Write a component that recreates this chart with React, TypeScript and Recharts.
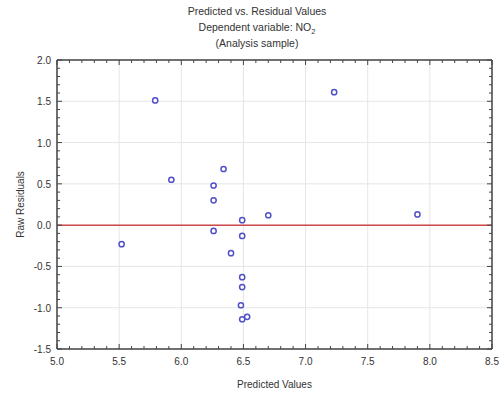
import { ScatterChart, Scatter, XAxis, YAxis, CartesianGrid, ReferenceLine } from "recharts"

const predicted = [5.52, 5.79, 5.92, 6.26, 6.26, 6.34, 6.26, 6.49, 6.49, 6.4, 6.7, 6.49, 6.49, 6.48, 6.49, 6.53, 7.23, 7.9]
const residuals = [-0.23, 1.51, 0.55, 0.48, 0.3, 0.68, -0.07, 0.06, -0.13, -0.34, 0.12, -0.63, -0.75, -0.97, -1.14, -1.11, 1.61, 0.13]

const xTicks = [5.0, 5.5, 6.0, 6.5, 7.0, 7.5, 8.0, 8.5]
const yTicks = [-1.5, -1.0, -0.5, 0.0, 0.5, 1.0, 1.5, 2.0]

const minorSteps = (from: number, to: number) => {
    const out: number[] = []
    for (let i = Math.round(from * 10); i <= Math.round(to * 10); i++) out.push(i / 10)
    return out
}
const xMinor = minorSteps(5.0, 8.5)
const yMinor = minorSteps(-1.5, 2.0)

const data = predicted.map((x, i) => ({ x, y: residuals[i] }))

const font = "'Liberation Sans', Arial, sans-serif"
const axisColor = "#444"
const textColor = "#333"
const labelStyle = { fontSize: 10, fill: textColor, fontFamily: font }

const isMajor = (v: number) => Math.abs(v * 2 - Math.round(v * 2)) < 1e-6

// inward tick marks on the frame, labels only on the bottom/left majors
const frameTick = (side: "bottom" | "top" | "left" | "right", labels: boolean) => (props: any) => {
    const { x, y, payload } = props
    const v = payload.value as number
    const len = isMajor(v) ? 5 : 3
    const showLabel = labels && isMajor(v)
    if (side === "bottom" || side === "top") {
        const dir = side === "bottom" ? -1 : 1
        return (
            <g>
                <line x1={x} y1={y} x2={x} y2={y + dir * len} stroke={axisColor} />
                {showLabel && <text x={x} y={y + 16} textAnchor="middle" {...labelStyle}>{v.toFixed(1)}</text>}
            </g>
        )
    }
    const dir = side === "left" ? 1 : -1
    return (
        <g>
            <line x1={x} y1={y} x2={x + dir * len} y2={y} stroke={axisColor} />
            {showLabel && <text x={x - 6} y={y + 4} textAnchor="end" {...labelStyle}>{v.toFixed(1)}</text>}
        </g>
    )
}

const Dot = (props: any) => (
    <circle cx={props.cx} cy={props.cy} r={2.6} fill="#fff" stroke="#5050c8" strokeWidth={1.5} />
)
const Nothing = () => <g />

const frameLine = { stroke: axisColor, strokeWidth: 1.5 }

export default function App() {
    return (
        <div style={{ position: "absolute", left: 0, top: 0, width: 503, height: 393, background: "#fff", fontFamily: font }}>
            <div style={{ position: "absolute", left: 0, width: 514, top: 3, textAlign: "center", fontSize: 10.5, color: textColor, lineHeight: "16px" }}>
                <div style={{ height: 16 }}>Predicted vs. Residual Values</div>
                <div style={{ height: 16 }}>Dependent variable: NO<sub style={{ fontSize: 7.5, lineHeight: 0 }}>2</sub></div>
                <div style={{ height: 16 }}>(Analysis sample)</div>
            </div>
            <ScatterChart width={503} height={393} margin={{ top: 59, right: 10, bottom: 0, left: 0 }}>
                <XAxis xAxisId="grid" type="number" dataKey="x" domain={[5, 8.5]} ticks={xTicks} hide allowDataOverflow />
                <YAxis yAxisId="grid" type="number" dataKey="y" domain={[-1.5, 2]} ticks={yTicks} hide allowDataOverflow />
                <CartesianGrid xAxisId="grid" yAxisId="grid" stroke="#e6e6e6" strokeWidth={1} />
                <XAxis
                    type="number"
                    dataKey="x"
                    domain={[5, 8.5]}
                    ticks={xMinor}
                    interval={0}
                    allowDataOverflow
                    tick={frameTick("bottom", true)}
                    tickLine={false}
                    tickSize={0}
                    tickMargin={0}
                    axisLine={frameLine}
                    height={44}
                    label={{ value: "Predicted Values", position: "insideBottom", offset: 5, style: labelStyle }}
                />
                <YAxis
                    type="number"
                    dataKey="y"
                    domain={[-1.5, 2]}
                    ticks={yMinor}
                    interval={0}
                    allowDataOverflow
                    tick={frameTick("left", true)}
                    tickLine={false}
                    tickSize={0}
                    tickMargin={0}
                    axisLine={frameLine}
                    width={57}
                    label={{ value: "Raw Residuals", angle: -90, position: "center", dx: -8, style: labelStyle }}
                />
                <XAxis xAxisId="top" orientation="top" type="number" dataKey="x" domain={[5, 8.5]} ticks={xMinor} interval={0}
                    tick={frameTick("top", false)} tickLine={false} tickSize={0} tickMargin={0} axisLine={frameLine} height={1} allowDataOverflow />
                <YAxis yAxisId="right" orientation="right" type="number" dataKey="y" domain={[-1.5, 2]} ticks={yMinor} interval={0}
                    tick={frameTick("right", false)} tickLine={false} tickSize={0} tickMargin={0} axisLine={frameLine} width={1} allowDataOverflow />
                <ReferenceLine y={0} stroke="#d04848" strokeWidth={1.5} />
                <Scatter data={data} xAxisId="grid" yAxisId="grid" shape={Nothing} isAnimationActive={false} />
                <Scatter data={data} xAxisId="top" yAxisId="right" shape={Nothing} isAnimationActive={false} />
                <Scatter data={data} shape={Dot} isAnimationActive={false} />
            </ScatterChart>
        </div>
    )
}
